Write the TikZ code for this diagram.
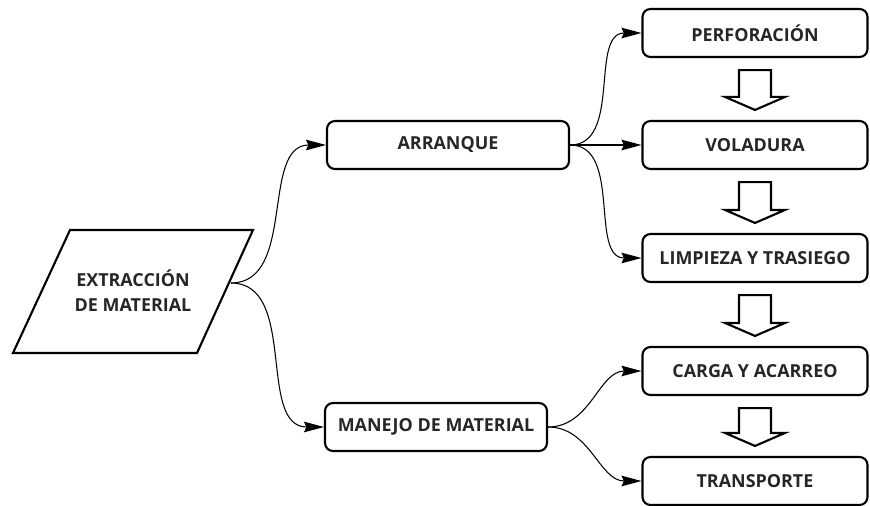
\documentclass[tikz,border=0pt]{standalone}
\usepackage{fontspec}
\setmainfont{Open Sans}
\usetikzlibrary{arrows.meta,calc}

\begin{document}
\begin{tikzpicture}[x = 0.03cm, y = -0.03cm,
		texto/.style = {font = \fontsize{15.3}{21.3}\selectfont\bfseries, text = black!85},
		caja/.style = {texto, draw, line width = 1.8pt, rounded corners = 0.24cm, minimum width = 6.75cm, minimum height = 1.44cm, inner sep = 0pt},
		enlace/.style = {line width = 0.9pt, -{Stealth[length = 17pt, width = 9pt, inset = 2pt]}, out = 0, in = 180},
		bloque/.style = {line width = 1.8pt, fill = white}]
					\useasboundingbox (0, 0) rectangle (870, 506);

					\coordinate (p1) at (70, 230);
					\coordinate (p2) at (253, 230);
					\coordinate (p3) at (197, 353);
					\coordinate (p4) at (13, 353);
					\coordinate (salida) at (231, 283);

					\draw [line width = 1.8pt] (p1) -- (p2) -- (p3) -- (p4) -- cycle;
					\node [texto, align = center] (extraccion) at (133, 291) {EXTRACCIÓN\\DE MATERIAL};

					\node [caja, minimum width = 7.26cm] (arranque) at (448, 145) {ARRANQUE};
					\node [caja, minimum width = 6.66cm] (manejo) at (436, 427) {MANEJO DE MATERIAL};

					\node [caja] (perforacion) at (755, 33) {PERFORACIÓN};
					\node [caja] (voladura) at (755, 145) {VOLADURA};
					\node [caja] (limpieza) at (755, 258) {LIMPIEZA Y TRASIEGO};
					\node [caja] (carga) at (755, 371) {CARGA Y ACARREO};
					\node [caja] (transporte) at (755, 481) {TRANSPORTE};

					\draw [enlace] (salida) to (arranque.west);
					\draw [enlace] (salida) to (manejo.west);
					\draw [enlace] (arranque.east) to (perforacion.west);
					\draw [enlace] (arranque.east) to (voladura.west);
					\draw [enlace] (arranque.east) to (limpieza.west);
					\draw [enlace] (manejo.east) to (carga.west);
					\draw [enlace] (manejo.east) to (transporte.west);

					\foreach \a/\b in {perforacion/voladura, voladura/limpieza, limpieza/carga, carga/transporte}
						\draw [bloque] ($(\a.south) + (-16, 12)$) -- ($(\a.south) + (16, 12)$) -- ($(\b.north) + (16, -23)$) -- ($(\b.north) + (30, -23)$) -- ($(\b.north) + (0, -10)$) -- ($(\b.north) + (-30, -23)$) -- ($(\b.north) + (-16, -23)$) -- cycle;
				\end{tikzpicture}
\end{document}
